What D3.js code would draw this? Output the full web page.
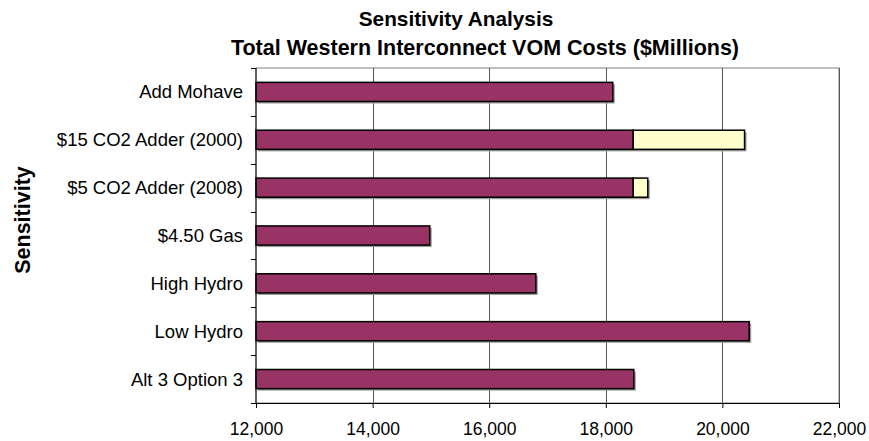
<!DOCTYPE html>
<html><head><meta charset="utf-8">
<script src="https://cdn.jsdelivr.net/npm/d3@7"></script>
<style>body{margin:0;background:#fff;} svg{display:block;font-family:"Liberation Sans",Arial,sans-serif;}</style>
</head><body>
<script>
const categories = ["Add Mohave","$15 CO2 Adder (2000)","$5 CO2 Adder (2008)","$4.50 Gas","High Hydro","Low Hydro","Alt 3 Option 3"];
const baseCost = [18120, 18470, 18470, 14980, 16800, 20460, 18480];
const co2Adder = [0, 1910, 250, 0, 0, 0, 0];
const xTicks = [12000, 14000, 16000, 18000, 20000, 22000];
const titleLines = ["Sensitivity Analysis", "Total Western Interconnect VOM Costs ($Millions)"];
const yTitle = "Sensitivity";

const W = 869, H = 441;
const m = {left:256, right:30, top:68, bottom:38};
const svg = d3.select("body").append("svg").attr("width",W).attr("height",H);

const x = d3.scaleLinear().domain([12000,22000]).range([m.left, W-m.right]);
const y = d3.scaleBand().domain(categories).range([m.top, H-m.bottom]).paddingInner(0.6).paddingOuter(0.3);
const yb = d3.scaleBand().domain(categories).range([m.top, H-m.bottom]);

// plot border (top/right)
svg.append("rect").attr("x",x(12000)).attr("y",m.top).attr("width",x(22000)-x(12000)).attr("height",H-m.bottom-m.top)
  .attr("fill","none").attr("stroke","#808080").attr("stroke-width",1);

// gridlines
svg.append("g").selectAll("line").data(xTicks.slice(1)).join("line")
  .attr("x1",d=>Math.round(x(d))+0.5).attr("x2",d=>Math.round(x(d))+0.5)
  .attr("y1",m.top).attr("y2",H-m.bottom).attr("stroke","#555").attr("stroke-width",1);

const data = categories.map((c,i)=>({c, base:baseCost[i], add:co2Adder[i]}));

// shadows
svg.append("g").selectAll("rect").data(data).join("rect")
  .attr("x",x(12000)+2).attr("y",d=>y(d.c)+2)
  .attr("width",d=>x(d.base+d.add)-x(12000)).attr("height",y.bandwidth())
  .attr("fill","#999");

// base bars
svg.append("g").selectAll("rect").data(data).join("rect")
  .attr("x",x(12000)).attr("y",d=>y(d.c))
  .attr("width",d=>x(d.base)-x(12000)).attr("height",y.bandwidth())
  .attr("fill","#993366").attr("stroke","#000").attr("stroke-width",1.5);

// adder bars
svg.append("g").selectAll("rect").data(data.filter(d=>d.add>0)).join("rect")
  .attr("x",d=>x(d.base)).attr("y",d=>y(d.c))
  .attr("width",d=>x(d.base+d.add)-x(d.base)).attr("height",y.bandwidth())
  .attr("fill","#FFFFCC").attr("stroke","#000").attr("stroke-width",1.5);

// x axis
const xAxis = d3.axisBottom(x).tickValues(xTicks).tickFormat(d3.format(",")).tickSizeOuter(0).tickSize(5).tickPadding(15);
const gx = svg.append("g").attr("transform",`translate(0,${H-m.bottom})`).call(xAxis);
gx.selectAll("text").attr("font-size",17.5).attr("fill","#000").attr("font-family","Liberation Sans, Arial, sans-serif");
gx.selectAll("line,path").attr("stroke","#000");

// y axis
const gy = svg.append("g").attr("transform",`translate(${m.left},0)`);
gy.append("line").attr("x1",0).attr("x2",0).attr("y1",m.top).attr("y2",H-m.bottom).attr("stroke","#000");
const bounds = categories.map(c=>yb(c)).concat([H-m.bottom]);
gy.selectAll("line.t").data(bounds).join("line").attr("class","t")
  .attr("x1",-5).attr("x2",0).attr("y1",d=>Math.round(d)+0.5).attr("y2",d=>Math.round(d)+0.5).attr("stroke","#000");
gy.selectAll("text").data(categories).join("text")
  .attr("x",-13).attr("y",d=>yb(d)+yb.bandwidth()/2).attr("dy","0.35em")
  .attr("text-anchor","end").attr("font-size",18.5).attr("fill","#000").text(d=>d);

// titles
svg.append("text").attr("x",456).attr("y",26).attr("text-anchor","middle").attr("font-weight","bold").attr("font-size",20.8).text(titleLines[0]);
svg.append("text").attr("x",485).attr("y",55).attr("text-anchor","middle").attr("font-weight","bold").attr("font-size",21.5).text(titleLines[1]);
svg.append("text").attr("transform","translate(30,220) rotate(-90)").attr("text-anchor","middle").attr("font-weight","bold").attr("font-size",21.5).text(yTitle);
</script>
</body></html>
